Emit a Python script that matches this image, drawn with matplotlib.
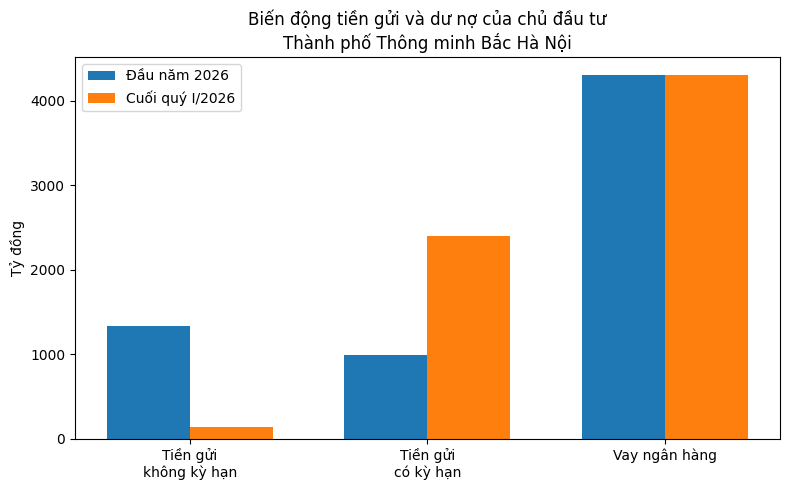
import numpy as np
import matplotlib
matplotlib.use("Agg")
import matplotlib.pyplot as plt

categories = ["Tiền gửi\nkhông kỳ hạn", "Tiền gửi\ncó kỳ hạn", "Vay ngân hàng"]
dau_nam = [1330, 985, 4305]
cuoi_quy = [140, 2400, 4305]
series_labels = ["Đầu năm 2026", "Cuối quý I/2026"]

x = np.arange(len(categories))
width = 0.35

fig, ax = plt.subplots(figsize=(7.9, 4.9), dpi=100)
ax.bar(x - width / 2, dau_nam, width, label=series_labels[0], color="#1f77b4")
ax.bar(x + width / 2, cuoi_quy, width, label=series_labels[1], color="#ff7f0e")

ax.set_xticks(x)
ax.set_xticklabels(categories)
ax.set_ylabel("Tỷ đồng")
ax.set_title("Biến động tiền gửi và dư nợ của chủ đầu tư\nThành phố Thông minh Bắc Hà Nội")
ax.legend(loc="upper left")

fig.subplots_adjust(left=0.095, right=0.987, top=0.884, bottom=0.105)
plt.savefig("out.png")
